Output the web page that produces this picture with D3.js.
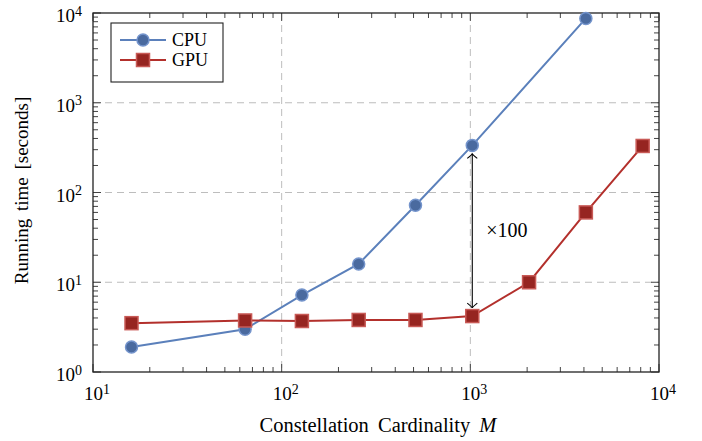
<!DOCTYPE html>
<html lang="en">
  <head>
    <meta charset="UTF-8" />
    <title>Running time</title>
    <style>
      body {
        margin: 0;
        background: white;
      }
      text {
        font-family: "Liberation Serif", "DejaVu Serif", serif;
        fill: black;
      }
      .grid-lines {
        stroke: #bdbdbd;
        stroke-width: 1;
        stroke-dasharray: 7, 5;
      }
      .line-path {
        fill: none;
        stroke-width: 2;
      }
    </style>
  </head>
  <body>
    <script src="https://d3js.org/d3.v7.min.js"></script>
    <script>
      // data
      const cpuM = [16, 64, 128, 256, 512, 1024, 4096];
      const cpuTime = [1.9, 3.0, 7.2, 16, 72, 335, 8700];
      const gpuM = [16, 64, 128, 256, 512, 1024, 2048, 4096, 8192];
      const gpuTime = [3.5, 3.75, 3.7, 3.8, 3.8, 4.2, 10, 60, 330];
      const xTicks = [10, 100, 1000, 10000];
      const yTicks = [1, 10, 100, 1000, 10000];
      const speedupAt = 1024;
      const speedupLabel = "×100";

      const width = 702;
      const height = 441;
      const margin = { top: 13, right: 43, bottom: 69, left: 93 };
      const innerW = width - margin.left - margin.right;
      const innerH = height - margin.top - margin.bottom;

      const series = [
        {
          name: "CPU",
          values: cpuM.map((m, i) => ({ m, t: cpuTime[i] })),
          line: "#5b80bb",
          fill: "#4a6a9f",
          edge: "#7494cc",
          mark: "circle",
        },
        {
          name: "GPU",
          values: gpuM.map((m, i) => ({ m, t: gpuTime[i] })),
          line: "#b3302c",
          fill: "#962521",
          edge: "#c85a56",
          mark: "square",
        },
      ];

      const svg = d3
        .select("body")
        .append("svg")
        .attr("width", width)
        .attr("height", height);

      const chart = svg
        .append("g")
        .attr("transform", `translate(${margin.left}, ${margin.top})`);

      const xScale = d3.scaleLog().domain([10, 10000]).range([0, innerW]);
      const yScale = d3.scaleLog().domain([1, 10000]).range([innerH, 0]);

      // minor ticks (2..9 in each decade)
      const minor = (ticks) =>
        d3.merge(
          ticks.slice(0, -1).map((t) => d3.range(2, 10).map((k) => t * k))
        );

      // grid
      chart
        .append("g")
        .attr("class", "grid-lines")
        .selectAll("line")
        .data(yTicks.slice(1, -1))
        .join("line")
        .attr("x1", 0)
        .attr("x2", innerW)
        .attr("y1", yScale)
        .attr("y2", yScale);

      chart
        .append("g")
        .attr("class", "grid-lines")
        .selectAll("line")
        .data(xTicks.slice(1, -1))
        .join("line")
        .attr("y1", 0)
        .attr("y2", innerH)
        .attr("x1", xScale)
        .attr("x2", xScale);

      // ticks on all four sides, pointing inward
      const tickGroup = chart
        .append("g")
        .attr("stroke", "#444")
        .attr("stroke-width", 1);

      [
        { list: minor(xTicks), len: 5 },
        { list: xTicks, len: 8 },
      ].forEach(({ list, len }) => {
        tickGroup
          .append("g")
          .selectAll("line")
          .data(list)
          .join("line")
          .attr("x1", xScale)
          .attr("x2", xScale)
          .attr("y1", innerH)
          .attr("y2", innerH - len);
        tickGroup
          .append("g")
          .selectAll("line")
          .data(list)
          .join("line")
          .attr("x1", xScale)
          .attr("x2", xScale)
          .attr("y1", 0)
          .attr("y2", len);
      });

      [
        { list: minor(yTicks), len: 5 },
        { list: yTicks, len: 8 },
      ].forEach(({ list, len }) => {
        tickGroup
          .append("g")
          .selectAll("line")
          .data(list)
          .join("line")
          .attr("y1", yScale)
          .attr("y2", yScale)
          .attr("x1", 0)
          .attr("x2", len);
        tickGroup
          .append("g")
          .selectAll("line")
          .data(list)
          .join("line")
          .attr("y1", yScale)
          .attr("y2", yScale)
          .attr("x1", innerW)
          .attr("x2", innerW - len);
      });

      // frame
      chart
        .append("rect")
        .attr("width", innerW)
        .attr("height", innerH)
        .attr("fill", "none")
        .attr("stroke", "#222")
        .attr("stroke-width", 1.3);

      // tick labels 10^k
      const powerLabel = (sel) => {
        sel
          .append("tspan")
          .text("10");
        sel
          .append("tspan")
          .attr("dy", "-0.45em")
          .attr("font-size", 14)
          .text((d) => Math.round(Math.log10(d)));
      };

      chart
        .append("g")
        .attr("font-size", 19)
        .attr("text-anchor", "middle")
        .selectAll("text")
        .data(xTicks)
        .join("text")
        .attr("x", (d) => xScale(d) + 4)
        .attr("y", innerH + 28)
        .call(powerLabel);

      chart
        .append("g")
        .attr("font-size", 19)
        .attr("text-anchor", "end")
        .selectAll("text")
        .data(yTicks)
        .join("text")
        .attr("x", -11)
        .attr("y", (d) => yScale(d) + 9)
        .call(powerLabel);

      // axis titles
      chart
        .append("text")
        .attr("font-size", 20.5)
        .attr("word-spacing", 4)
        .attr("text-anchor", "middle")
        .attr("x", innerW / 2 + 2)
        .attr("y", innerH + 60)
        .call((t) => {
          t.append("tspan").text("Constellation Cardinality ");
          t.append("tspan").attr("font-style", "italic").text("M");
        });

      chart
        .append("text")
        .attr("font-size", 19)
        .attr("word-spacing", 3)
        .attr("text-anchor", "middle")
        .attr("transform", "rotate(-90)")
        .attr("x", -innerH / 2 + 2)
        .attr("y", -65)
        .text("Running time [seconds]");

      // lines and markers
      const line = d3
        .line()
        .x((d) => xScale(d.m))
        .y((d) => yScale(d.t));

      const drawMark = (g, s) => {
        if (s.mark === "circle") {
          g.append("circle")
            .attr("r", 6)
            .attr("fill", s.fill)
            .attr("stroke", s.edge)
            .attr("stroke-width", 1.5);
        } else {
          g.append("rect")
            .attr("x", -6.5)
            .attr("y", -6.5)
            .attr("width", 13)
            .attr("height", 13)
            .attr("fill", s.fill)
            .attr("stroke", s.edge)
            .attr("stroke-width", 1.5);
        }
      };

      series.forEach((s) => {
        const g = chart.append("g");
        g.append("path")
          .attr("class", "line-path")
          .attr("d", line(s.values))
          .style("stroke", s.line);
        g.selectAll(".mark")
          .data(s.values)
          .join("g")
          .attr("class", "mark")
          .attr("transform", (d) => `translate(${xScale(d.m)}, ${yScale(d.t)})`)
          .each(function () {
            drawMark(d3.select(this), s);
          });
      });

      // speedup arrow
      const ax = xScale(speedupAt);
      const yTop = yScale(cpuTime[cpuM.indexOf(speedupAt)]) + 8;
      const yBot = yScale(gpuTime[gpuM.indexOf(speedupAt)]) - 8;
      const arrow = chart
        .append("g")
        .attr("stroke", "black")
        .attr("stroke-width", 1.1)
        .attr("fill", "none");
      arrow
        .append("line")
        .attr("x1", ax)
        .attr("x2", ax)
        .attr("y1", yTop)
        .attr("y2", yBot);
      arrow
        .append("path")
        .attr("d", `M${ax - 5},${yTop + 5} Q${ax},${yTop + 1} ${ax},${yTop} Q${ax},${yTop + 1} ${ax + 5},${yTop + 5}`);
      arrow
        .append("path")
        .attr("d", `M${ax - 5},${yBot - 5} Q${ax},${yBot - 1} ${ax},${yBot} Q${ax},${yBot - 1} ${ax + 5},${yBot - 5}`);

      chart
        .append("text")
        .attr("font-size", 20)
        .attr("x", ax + 14)
        .attr("y", (yTop + yBot) / 2 + 6)
        .text(speedupLabel);

      // legend
      const legend = chart
        .append("g")
        .attr("transform", "translate(18, 10)");

      legend
        .append("rect")
        .attr("width", 112)
        .attr("height", 59)
        .attr("fill", "white")
        .attr("stroke", "#222")
        .attr("stroke-width", 1.1);

      const entry = legend
        .selectAll(".entry")
        .data(series)
        .join("g")
        .attr("class", "entry")
        .attr("transform", (d, i) => `translate(0, ${17 + i * 20})`);

      entry
        .append("line")
        .attr("x1", 9)
        .attr("x2", 55)
        .attr("stroke", (d) => d.line)
        .attr("stroke-width", 2);

      entry
        .append("g")
        .attr("transform", "translate(32, 0)")
        .each(function (d) {
          drawMark(d3.select(this), d);
        });

      entry
        .append("text")
        .attr("font-size", 18)
        .attr("x", 61)
        .attr("y", 6)
        .text((d) => d.name);
    </script>
  </body>
</html>
